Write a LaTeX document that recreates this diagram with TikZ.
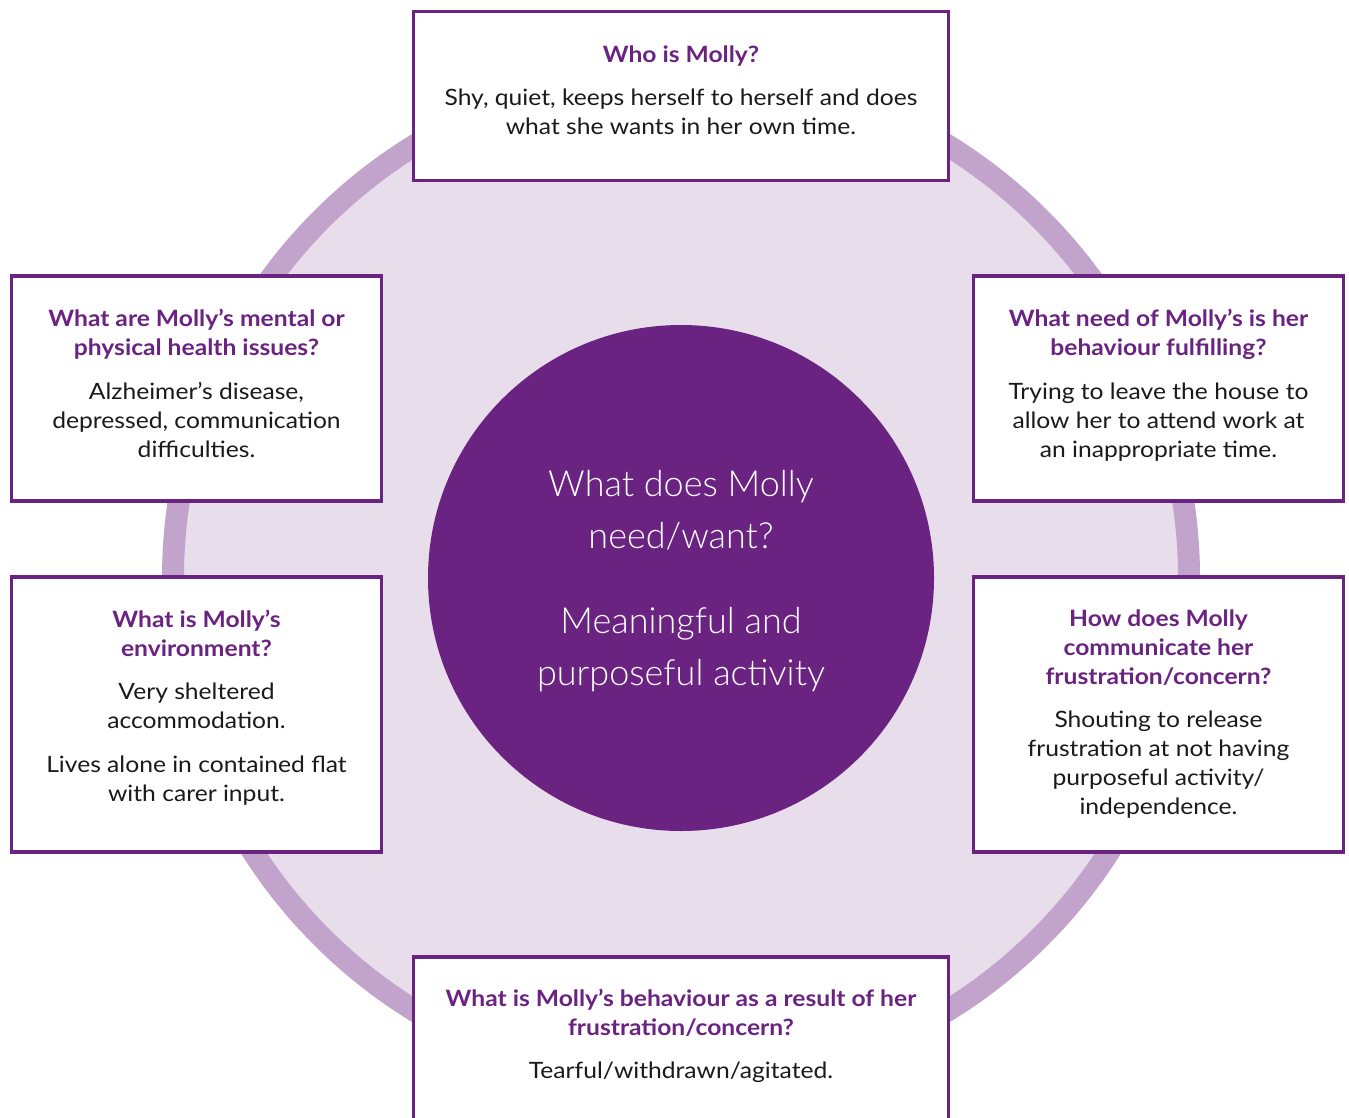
\documentclass[tikz,border=0pt]{standalone}
\usepackage{fontspec}
\setmainfont{Lato}[FakeStretch=1.095]
\IfFontExistsTF{Lato Light}{\newfontfamily\lightfont{Lato Light}}{\newfontfamily\lightfont{Lato}}
\definecolor{mpurple}{HTML}{6B2382}
\definecolor{ringc}{HTML}{C2A3CB}
\definecolor{discc}{HTML}{E8DDEB}
\definecolor{bodyc}{HTML}{1A1A1A}
\newcommand\ttl[1]{{\bfseries\color{mpurple}#1}}

\begin{document}
\begin{tikzpicture}[x=1pt,y=-1pt,
  qbox/.style={draw=mpurple,line width=3.5pt,fill=white,inner sep=0pt,rectangle},
  txt/.style={anchor=base,inner sep=0pt,text=bodyc,font=\fontsize{22.5}{29}\selectfont},
  ctxt/.style={anchor=base,inner sep=0pt,text=white,font=\lightfont\fontsize{36}{52}\selectfont}]
\clip (0,0) rectangle (1349,1118);
\fill[white] (0,0) rectangle (1349,1118);

% background disc with its ring, and the central hub
\node[circle,fill=discc,draw=ringc,line width=22pt,minimum size=1016pt,inner sep=0pt] (disc) at (681,578) {};
\node[circle,fill=mpurple,minimum size=506pt,inner sep=0pt] (hub) at (681,578) {};
\node[ctxt] (hubtext) at (681,496.5) {\begin{tabular}[t]{@{}c@{}}What does Molly\\ need/want?\\[33pt] Meaningful and\\ purposeful activity\end{tabular}};

% question boxes
\node[qbox,minimum width=535pt,minimum height=169pt] (who) at (681,96) {};
\node[qbox,minimum width=370pt,minimum height=225pt] (health) at (196.5,388.5) {};
\node[qbox,minimum width=370pt,minimum height=225pt] (need) at (1158.5,388.5) {};
\node[qbox,minimum width=370pt,minimum height=275pt] (env) at (196.5,714.5) {};
\node[qbox,minimum width=370pt,minimum height=275pt] (comm) at (1158.5,714.5) {};
\node[qbox,minimum width=535pt,minimum height=200pt] (behav) at (681,1057) {};

% box contents
\node[txt] (whotext) at (681,62.5) {\begin{tabular}[t]{@{}c@{}}\ttl{Who is Molly?}\\[14pt]
  Shy, quiet, keeps herself to herself and does\\ what she wants in her own time.\end{tabular}};
\node[txt] (healthtext) at (196.5,326) {\begin{tabular}[t]{@{}c@{}}\ttl{What are Molly’s mental or}\\ \ttl{physical health issues?}\\[15pt]
  Alzheimer’s disease,\\ depressed, communication\\ difficulties.\end{tabular}};
\node[txt] (needtext) at (1158.5,326) {\begin{tabular}[t]{@{}c@{}}\ttl{What need of Molly’s is her}\\ \ttl{behaviour fulfilling?}\\[15pt]
  Trying to leave the house to\\ allow her to attend work at\\ an inappropriate time.\end{tabular}};
\node[txt] (envtext) at (196.5,627) {\begin{tabular}[t]{@{}c@{}}\ttl{What is Molly’s}\\ \ttl{environment?}\\[14pt]
  Very sheltered\\ accommodation.\\[15pt] Lives alone in contained flat\\ with carer input.\end{tabular}};
\node[txt] (commtext) at (1158.5,626.5) {\begin{tabular}[t]{@{}c@{}}\ttl{How does Molly}\\ \ttl{communicate her}\\ \ttl{frustration/concern?}\\[14pt]
  Shouting to release\\ frustration at not having\\ purposeful activity/\\ independence.\end{tabular}};
\node[txt] (behavtext) at (681,1006) {\begin{tabular}[t]{@{}c@{}}\ttl{What is Molly’s behaviour as a result of her}\\ \ttl{frustration/concern?}\\[14pt]
  Tearful/withdrawn/agitated.\end{tabular}};
\end{tikzpicture}
\end{document}
